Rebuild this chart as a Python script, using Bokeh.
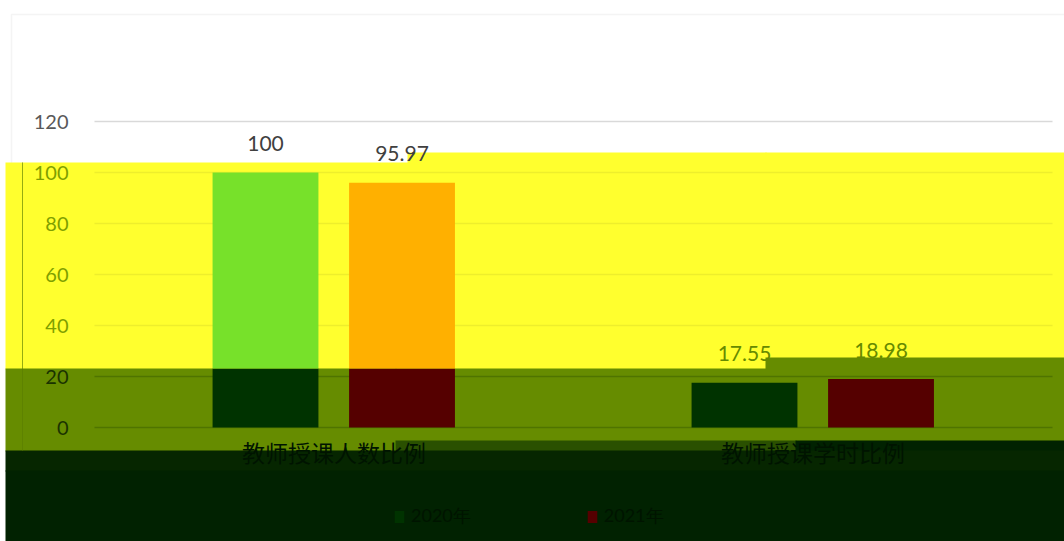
from bokeh.plotting import figure
from bokeh.models import (Range1d, ColumnDataSource, BoxAnnotation, Label,
                          Legend, LegendItem)
from bokeh.core.properties import value
from bokeh.embed import file_html
from bokeh.resources import INLINE

# ---- data ----
categories = ["教师授课人数比例", "教师授课学时比例"]
series_names = ["2020年", "2021年"]
series_a = [100, 17.55]
series_b = [95.97, 18.98]
y_ticks = [0, 20, 40, 60, 80, 100, 120]

# ---- styles ----
W, H = 1064, 541
CUT = 23.1                      # value where the colour bands change
YELLOW = "#ffff2e"
OLIVE = "#668c00"
DARK = "#012201"
FONT = "Lato"
CJK = "Noto Sans CJK SC"
PX = 2.55                       # pixels per value unit
ZERO_Y = 427                    # canvas row of value 0
TOP_Y = 121                     # canvas row of value 120
LEFT_X = 94                     # canvas column where the categories start
CAT_W = 479                     # pixels per category

n = len(categories)
centers = [i + 0.5 for i in range(n)]

p = figure(width=W, height=H,
           x_range=Range1d(-LEFT_X / CAT_W, (W - LEFT_X) / CAT_W),
           y_range=Range1d(-(H - ZERO_Y) / PX, 120 + TOP_Y / PX),
           x_axis_location=None, y_axis_location=None,
           output_backend="svg", toolbar_location=None,
           min_border=0)
p.outline_line_color = None
p.background_fill_color = "white"
p.border_fill_color = "white"
p.xgrid.visible = False
p.ygrid.visible = False

def canvas_box(l, r, t, b, **kw):
    return BoxAnnotation(left=l, right=r, top=t, bottom=b,
                         left_units="canvas", right_units="canvas",
                         top_units="canvas", bottom_units="canvas",
                         level="image", **kw)

# chart border (visible only in the white area)
p.add_layout(canvas_box(11, 1080, 14, 700, fill_alpha=0,
                        line_color="#d9d9d9", line_width=1.5))

# colour bands (canvas px), drawn with a 1px overlap
bands = [
    (5, 408, 162, 369, YELLOW),
    (407, 766, 152, 369, YELLOW),
    (765, 1064, 152, 358, YELLOW),
    (5, 396, 368, 451, OLIVE),
    (395, 766, 368, 441, OLIVE),
    (765, 1064, 357, 441, OLIVE),
    (395, 796, 440, 451, "#2a5000"),
    (795, 1064, 440, 451, DARK),
    (5, 1064, 450, 471, "#062600"),
    (5, 1064, 470, 541, DARK),
]
for l, r, t, b, c in bands:
    p.add_layout(canvas_box(l, r, t, b, fill_color=c, fill_alpha=1, line_color=None))

# faint shifted border line inside the bands
p.add_layout(canvas_box(22, 22, 162, 450, fill_alpha=0,
                        line_color="#5a7d00", line_width=1, line_alpha=0.4))

# gridlines, across the category extent
grid_cols = ["#d9d9d9" if t > 110 else ("#eeee2c" if t > CUT else "#4f7400") for t in y_ticks]
p.segment(x0=[0] * len(y_ticks), x1=[n] * len(y_ticks), y0=y_ticks, y1=y_ticks,
          line_color=grid_cols, line_width=1.5)

# bars
OFF_A, OFF_B, BW = -0.143, 0.142, 0.221
src = ColumnDataSource(dict(
    xa=[c + OFF_A for c in centers], xb=[c + OFF_B for c in centers],
    a=series_a, b=series_b,
    a_low=[min(v, CUT) for v in series_a],
    b_low=[min(v, CUT) for v in series_b],
    a_lbl=[f"{v:g}" for v in series_a],
    b_lbl=[f"{v:g}" for v in series_b],
    a_col=["#404040" if v > 60 else "#668a00" for v in series_a],
    b_col=["#404040" if v > 60 else "#668a00" for v in series_b],
))

ra = p.vbar(x="xa", bottom=0, top="a_low", width=BW,
            fill_color="#003300", line_color=None, source=src)
p.vbar(x="xa", bottom="a_low", top="a", width=BW,
       fill_color="#77e12a", line_color=None, source=src)
rb = p.vbar(x="xb", bottom=0, top="b_low", width=BW,
            fill_color="#550000", line_color=None, source=src)
p.vbar(x="xb", bottom="b_low", top="b", width=BW,
       fill_color="#ffb000", line_color=None, source=src)

# data labels
for xcol, ycol, lcol, ccol in [("xa", "a", "a_lbl", "a_col"), ("xb", "b", "b_lbl", "b_col")]:
    p.text(x=xcol, y=ycol, text=lcol, text_color=ccol, text_align="center",
           text_baseline="alphabetic", y_offset=-29, text_font=value(FONT),
           text_font_size="21px", source=src)

# y tick labels
for t in y_ticks:
    col = "#595959" if t > 110 else ("#7f9f00" if t > CUT else "#1a3300")
    p.add_layout(Label(x=68, y=t, x_units="canvas", y_units="data", text=str(t),
                       text_align="right", text_baseline="middle",
                       text_color=col, text_font=FONT, text_font_size="20px"))

# category labels, under the value axis' zero line
p.text(x=centers, y=[0] * n, text=categories, text_align="center",
       text_baseline="middle", y_offset=24, text_color="#001400",
       text_font=value(CJK), text_font_size="23px")

legend = Legend(items=[LegendItem(label=series_names[0], renderers=[ra]),
                       LegendItem(label=series_names[1], renderers=[rb])],
                orientation="horizontal", location=(393, 13),
                background_fill_alpha=0, border_line_color=None,
                label_text_color="#001400", label_text_font=FONT,
                label_text_font_size="18px", glyph_width=12, glyph_height=15,
                label_standoff=6, spacing=115, padding=0, margin=0)
p.add_layout(legend, "center")

open("out.html", "w").write(file_html(p, INLINE))
